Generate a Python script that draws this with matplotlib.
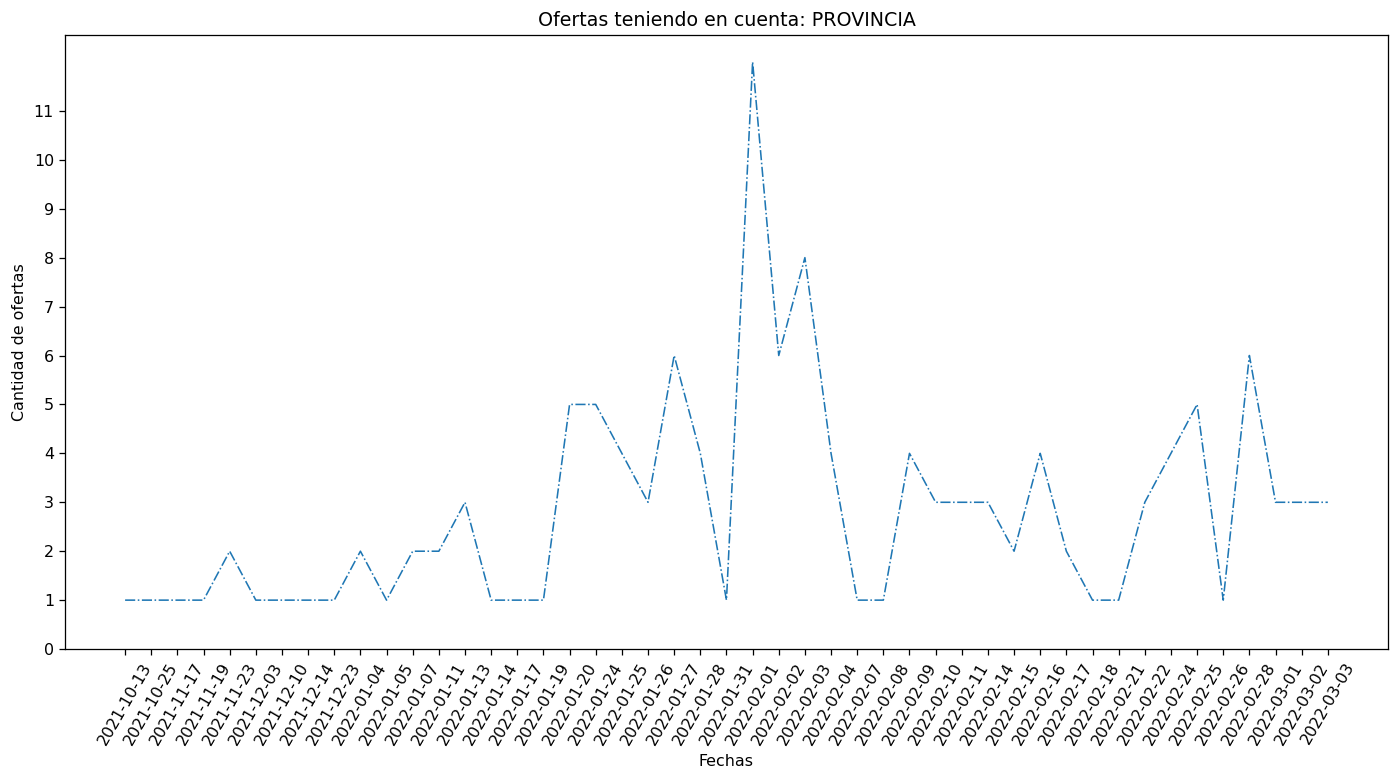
import matplotlib
matplotlib.use('Agg')
import matplotlib.pyplot as plt

fechas = ['2021-10-13', '2021-10-25', '2021-11-17', '2021-11-19', '2021-11-23',
          '2021-12-03', '2021-12-10', '2021-12-14', '2021-12-23', '2022-01-04',
          '2022-01-05', '2022-01-07', '2022-01-11', '2022-01-13', '2022-01-14',
          '2022-01-17', '2022-01-19', '2022-01-20', '2022-01-24', '2022-01-25',
          '2022-01-26', '2022-01-27', '2022-01-28', '2022-01-31', '2022-02-01',
          '2022-02-02', '2022-02-03', '2022-02-04', '2022-02-07', '2022-02-08',
          '2022-02-09', '2022-02-10', '2022-02-11', '2022-02-14', '2022-02-15',
          '2022-02-16', '2022-02-17', '2022-02-18', '2022-02-21', '2022-02-22',
          '2022-02-24', '2022-02-25', '2022-02-26', '2022-02-28', '2022-03-01',
          '2022-03-02', '2022-03-03']
ofertas = [1, 1, 1, 1, 2, 1, 1, 1, 1, 2,
           1, 2, 2, 3, 1, 1, 1, 5, 5, 4,
           3, 6, 4, 1, 12, 6, 8, 4, 1, 1,
           4, 3, 3, 3, 2, 4, 2, 1, 1, 3,
           4, 5, 1, 6, 3, 3, 3]

dpi = 114
fig = plt.figure(figsize=(1400 / dpi, 782 / dpi), dpi=dpi)
plt.subplots_adjust(left=0.0464, right=0.9914, top=0.9552, bottom=0.170)
plt.plot(fechas, ofertas, linestyle='-.', linewidth=1)
plt.title('Ofertas teniendo en cuenta: PROVINCIA')
plt.xlabel('Fechas')
plt.ylabel('Cantidad de ofertas')
plt.xticks(rotation=60)
plt.yticks(range(0, 12))
plt.ylim(0, 12.55)
plt.savefig('out.png', dpi=dpi)
